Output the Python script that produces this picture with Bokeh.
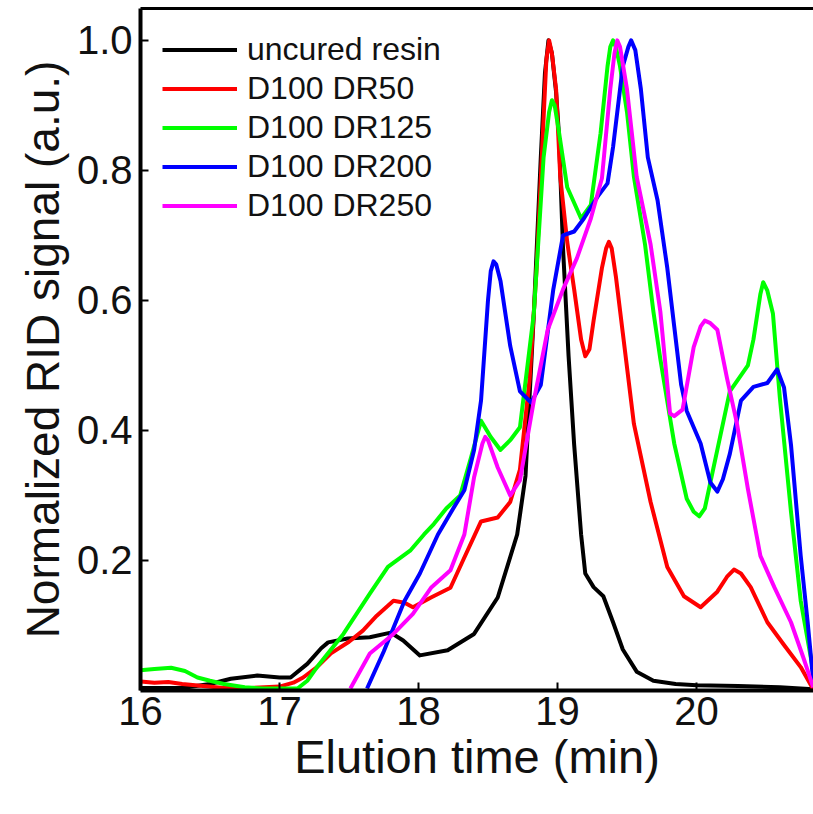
from bokeh.plotting import figure
from bokeh.models import Range1d, LinearAxis, FixedTicker, Legend, LegendItem, PrintfTickFormatter
from bokeh.embed import file_html
from bokeh.resources import INLINE

# ---- data ----
black_x = [16.0, 16.3, 16.5, 16.65, 16.84, 17.0, 17.08, 17.2, 17.3, 17.35, 17.49, 17.65, 17.8, 17.89, 18.01,
           18.21, 18.4, 18.57, 18.71, 18.77, 18.83, 18.88, 18.91, 18.935, 18.96, 18.99, 19.01, 19.04, 19.08, 19.12,
           19.17, 19.2, 19.26, 19.33, 19.4, 19.47, 19.57, 19.69, 19.85, 20.0, 20.3, 20.6, 20.84]
black_y = [0.004, 0.004, 0.01, 0.018, 0.023, 0.02, 0.02, 0.041, 0.065, 0.074, 0.08, 0.082, 0.089, 0.077, 0.054,
           0.062, 0.087, 0.143, 0.24, 0.33, 0.58, 0.82, 0.95, 1.0, 0.98, 0.92, 0.857, 0.68, 0.514, 0.378,
           0.24, 0.18, 0.159, 0.145, 0.105, 0.063, 0.029, 0.015, 0.01, 0.008, 0.007, 0.005, 0.002]

red_x = [16.0, 16.1, 16.2, 16.3, 16.45, 16.6, 16.8, 17.0, 17.1, 17.17, 17.27, 17.37, 17.5, 17.6, 17.7, 17.82,
         17.9, 17.96, 18.09, 18.23, 18.32, 18.45, 18.57, 18.66, 18.73, 18.8, 18.85, 18.9, 18.92, 18.94, 18.96,
         18.99, 19.02, 19.07, 19.12, 19.17, 19.2, 19.23, 19.26, 19.32, 19.35, 19.37, 19.39, 19.42, 19.47, 19.55,
         19.67, 19.79, 19.91, 20.03, 20.15, 20.22, 20.27, 20.32, 20.39, 20.51, 20.63, 20.75, 20.84]
red_y = [0.014, 0.012, 0.013, 0.01, 0.007, 0.004, 0.004, 0.006, 0.012, 0.02, 0.036, 0.057, 0.075, 0.092, 0.115, 0.138,
         0.135, 0.128, 0.143, 0.158, 0.2, 0.26, 0.266, 0.29, 0.34, 0.48, 0.65, 0.88, 0.97, 1.0, 0.98,
         0.925, 0.79, 0.69, 0.617, 0.54, 0.514, 0.525, 0.569, 0.65, 0.68, 0.69, 0.68, 0.637, 0.55, 0.41,
         0.29, 0.19, 0.145, 0.128, 0.152, 0.175, 0.186, 0.18, 0.159, 0.105, 0.07, 0.036, 0.002]

green_x = [16.0, 16.1, 16.22, 16.32, 16.41, 16.5, 16.6, 16.75, 16.88, 17.0, 17.13, 17.2, 17.27, 17.46, 17.65, 17.78,
           17.94, 18.04, 18.11, 18.2, 18.3, 18.38, 18.45, 18.52, 18.59, 18.66, 18.73, 18.83, 18.9, 18.94, 18.96,
           18.98, 19.01, 19.07, 19.17, 19.24, 19.31, 19.36, 19.38, 19.40, 19.42, 19.45, 19.5, 19.55, 19.63, 19.69,
           19.74, 19.84, 19.93, 19.98, 20.02, 20.06, 20.12, 20.24, 20.37, 20.41, 20.46, 20.48, 20.51, 20.55, 20.6,
           20.68, 20.75, 20.84]
green_y = [0.031, 0.033, 0.035, 0.03, 0.02, 0.015, 0.01, 0.005, 0.003, 0.003, 0.003, 0.015, 0.036, 0.087, 0.149, 0.19,
           0.215, 0.24, 0.256, 0.28, 0.30, 0.36, 0.415, 0.39, 0.37, 0.385, 0.405, 0.58, 0.82, 0.89, 0.908,
           0.9, 0.86, 0.774, 0.726, 0.747, 0.857, 0.96, 0.99, 1.0, 0.99, 0.96, 0.89, 0.79, 0.686, 0.583,
           0.51, 0.38, 0.295, 0.275, 0.268, 0.28, 0.34, 0.46, 0.50, 0.54, 0.61, 0.628, 0.615, 0.58, 0.45,
           0.275, 0.138, 0.03]

blue_x = [17.63, 17.75, 17.9, 18.01, 18.14, 18.25, 18.33, 18.4, 18.45, 18.5, 18.52, 18.54, 18.56, 18.59, 18.66,
          18.73, 18.81, 18.88, 18.97, 19.04, 19.12, 19.19, 19.29, 19.36, 19.40, 19.47, 19.51, 19.53, 19.56,
          19.60, 19.65, 19.72, 19.79, 19.84, 19.89, 19.93, 20.03, 20.1, 20.15, 20.19, 20.24, 20.32, 20.41, 20.51,
          20.58, 20.63, 20.68, 20.75, 20.80, 20.84]
blue_y = [0.003, 0.06, 0.138, 0.18, 0.24, 0.28, 0.308, 0.37, 0.446, 0.6, 0.645, 0.66, 0.655, 0.63, 0.53,
          0.46, 0.443, 0.47, 0.617, 0.70, 0.706, 0.726, 0.76, 0.78, 0.836, 0.96, 0.99, 1.0, 0.985,
          0.925, 0.82, 0.754, 0.65, 0.56, 0.47, 0.43, 0.38, 0.32, 0.306, 0.325, 0.364, 0.446, 0.467, 0.473,
          0.494, 0.466, 0.378, 0.207, 0.105, 0.015]

magenta_x = [17.51, 17.65, 17.82, 17.96, 18.09, 18.23, 18.33, 18.4, 18.46, 18.48, 18.5, 18.57, 18.66, 18.73, 18.83,
             18.93, 19.04, 19.14, 19.24, 19.32, 19.38, 19.41, 19.43, 19.45, 19.50, 19.57, 19.67, 19.74, 19.81,
             19.84, 19.9, 19.98, 20.03, 20.06, 20.1, 20.15, 20.22, 20.29, 20.37, 20.46, 20.56, 20.68, 20.77, 20.84]
magenta_y = [0.003, 0.057, 0.087, 0.118, 0.158, 0.185, 0.24, 0.328, 0.38, 0.39, 0.385, 0.343, 0.300, 0.323, 0.446,
             0.555, 0.617, 0.665, 0.726, 0.788, 0.925, 0.98, 1.0, 0.99, 0.925, 0.79, 0.686, 0.583, 0.426,
             0.422, 0.432, 0.528, 0.56, 0.569, 0.565, 0.555, 0.48, 0.412, 0.31, 0.207, 0.159, 0.105, 0.05, 0.005]

labels = ["uncured resin", "D100 DR50", "D100 DR125", "D100 DR200", "D100 DR250"]
colors = ["#000000", "#ff0000", "#00ff00", "#0000ff", "#ff00ff"]
x_ticks = [16, 17, 18, 19, 20]
y_ticks = [0.2, 0.4, 0.6, 0.8, 1.0]

FONT = "Liberation Sans"

p = figure(width=813, height=814, output_backend="svg", toolbar_location=None,
           x_range=Range1d(16, 20.842), y_range=Range1d(0, 1.049),
           min_border_left=140, min_border_right=0, min_border_top=8, min_border_bottom=124)
p.outline_line_color = None
p.grid.visible = False
p.background_fill_color = "white"

series = [(black_x, black_y), (red_x, red_y), (green_x, green_y), (blue_x, blue_y), (magenta_x, magenta_y)]
renderers = []
for (xs, ys), c in zip(series, colors):
    r = p.line(xs, ys, line_color=c, line_width=4, line_join="round")
    renderers.append(r)

for ax in (p.xaxis[0], p.yaxis[0]):
    ax.axis_line_width = 4
    ax.major_tick_line_width = 2
    ax.major_tick_in = 8
    ax.major_tick_out = 0
    ax.minor_tick_line_color = None
    ax.major_label_text_font = FONT
    ax.major_label_text_font_size = "40px"
    ax.major_label_text_color = "#111111"
    ax.axis_label_text_font = FONT
    ax.axis_label_text_font_style = "normal"
    ax.axis_label_text_color = "#111111"

p.xaxis[0].axis_label_text_font_size = "47px"
p.yaxis[0].axis_label_text_font_size = "46px"
p.xaxis[0].ticker = FixedTicker(ticks=x_ticks)
p.yaxis[0].ticker = FixedTicker(ticks=y_ticks)
p.yaxis[0].formatter = PrintfTickFormatter(format="%.1f")
p.xaxis[0].axis_label = "Elution time (min)"
p.yaxis[0].axis_label = "Normalized RID signal (a.u.)"
p.xaxis[0].major_label_standoff = 6
p.yaxis[0].major_label_standoff = 8
p.xaxis[0].axis_label_standoff = 2

top = LinearAxis(ticker=FixedTicker(ticks=[]), axis_line_width=3, major_tick_in=0, major_tick_out=0,
                 minor_tick_in=0, minor_tick_out=0, major_label_text_font_size="0px")
p.add_layout(top, "above")

legend = Legend(items=[LegendItem(label=l, renderers=[r]) for l, r in zip(labels, renderers)],
                location="top_left", margin=22, padding=0, spacing=0,
                glyph_width=75, glyph_height=39, label_height=39, label_standoff=10,
                label_text_font=FONT, label_text_font_size="32px", label_text_color="#111111",
                border_line_color=None, background_fill_alpha=0)
p.add_layout(legend)

open("out.html", "w").write(file_html(p, INLINE))
